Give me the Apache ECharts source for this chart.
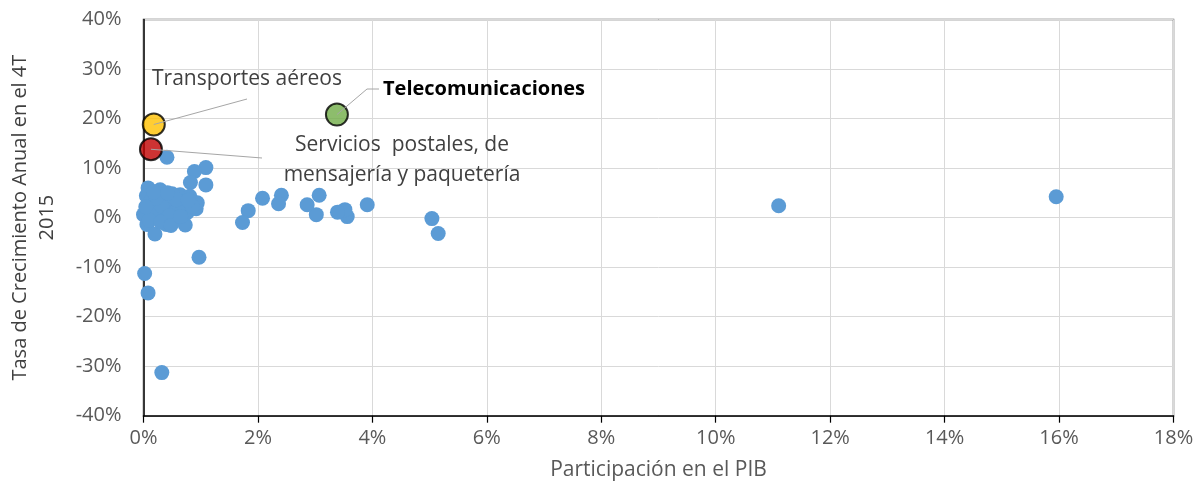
<!DOCTYPE html>
<html>
<head>
<meta charset="utf-8">
<script src="https://cdn.jsdelivr.net/npm/echarts@6/dist/echarts.min.js"></script>
<style>
html,body{margin:0;padding:0;background:#fff;}
#chart{width:1198px;height:481px;}
</style>
</head>
<body>
<div id="chart"></div>
<script>
// Participación en el PIB (%), Tasa de crecimiento anual (%)
const otherSectors = [
  [15.95, 4.2], [11.1, 2.4], [5.04, -0.2], [5.15, -3.2], [3.91, 2.6],
  [3.56, 0.2], [3.52, 1.6], [3.39, 1.1], [3.07, 4.5], [3.02, 0.6],
  [2.86, 2.6], [2.41, 4.5], [2.36, 2.8], [2.08, 3.9], [1.83, 1.4],
  [1.73, -1.0], [1.09, 10.1], [0.89, 9.3], [1.09, 6.6], [0.82, 7.1],
  [0.41, 12.2], [0.97, -8.0], [0.02, -11.3], [0.08, -15.2], [0.32, -31.3],
  [0.08, 6.0], [0.05, 4.4], [0.29, 5.6], [0.12, 3.2], [0.0, 0.6],
  [0.06, -1.4], [0.2, -3.3], [0.5, 2.2], [0.55, -0.3], [0.73, -1.5],
  [0.76, 1.0], [0.92, 1.8], [0.94, 3.0], [0.64, 4.6], [0.81, 4.3],
  [0.5, 4.8], [0.38, 3.4], [0.28, 0.5], [0.4, -1.4], [0.6, 1.5],
  [0.15, 1.0], [0.32, 2.3], [0.1, -0.5], [0.22, 3.9], [0.45, 0.4],
  [0.68, 2.8], [0.85, 2.3], [0.58, 3.6], [0.3, -0.9], [0.48, -1.6],
  [0.65, 0.2], [0.18, 5.2], [0.04, 2.2], [0.78, 3.5], [0.42, 5.0]
];
const transportesAereos = [[0.18, 18.8]];
const serviciosPostales = [[0.13, 13.8]];
const telecomunicaciones = [[3.38, 20.8]];

const labelTransportes = 'Transportes aéreos';
const labelTelecom = 'Telecomunicaciones';
const labelPostales = 'Servicios  postales, de\nmensajería y paquetería';
const xTitle = 'Participación en el PIB';
const yTitle = 'Tasa de Crecimiento Anual en el 4T\n2015';

const FONT = '"Open Sans", Lato, sans-serif';
const chart = echarts.init(document.getElementById('chart'), null, {renderer: 'canvas'});

const option = {
  backgroundColor: '#ffffff',
  animation: false,
  grid: {
    left: 143.5, right: 24.5, top: 19.5, bottom: 65.3,
    outerBoundsMode: 'none', containLabel: false,
    show: true, borderColor: '#595959', borderWidth: 1.5, backgroundColor: 'transparent'
  },
  xAxis: {
    type: 'value', min: 0, max: 18, interval: 2,
    name: xTitle, nameLocation: 'middle', nameGap: 44,
    nameTextStyle: {fontFamily: FONT, fontSize: 21, color: '#595959'},
    axisLine: {show: true, onZero: false, lineStyle: {color: '#000', width: 1.5}},
    axisTick: {show: true, length: 7, lineStyle: {color: '#000', width: 1.2}},
    axisLabel: {formatter: '{value}%', fontFamily: FONT, fontSize: 20, color: '#595959', margin: 13},
    splitLine: {show: true, lineStyle: {color: '#d9d9d9', width: 1}}
  },
  yAxis: {
    type: 'value', min: -40, max: 40, interval: 10,
    name: yTitle, nameLocation: 'middle', nameGap: 83, nameRotate: 90,
    nameTextStyle: {fontFamily: FONT, fontSize: 20, color: '#404040', lineHeight: 27, align: 'center'},
    axisLine: {show: true, lineStyle: {color: '#000', width: 1.5}},
    axisTick: {show: false},
    axisLabel: {formatter: '{value}%', fontFamily: FONT, fontSize: 20, color: '#595959', margin: 22},
    splitLine: {show: true, lineStyle: {color: '#d9d9d9', width: 1}}
  },
  series: [
    {
      name: 'Otros', type: 'scatter', data: otherSectors, symbolSize: 15,
      itemStyle: {color: '#5B9BD5', opacity: 1}, z: 2
    },
    {
      name: labelTransportes, type: 'scatter', data: transportesAereos, symbolSize: 22,
      itemStyle: {color: '#FFC000', borderColor: '#000', borderWidth: 2}, z: 3
    },
    {
      name: 'Servicios postales', type: 'scatter', data: serviciosPostales, symbolSize: 22,
      itemStyle: {color: '#C00000', borderColor: '#000', borderWidth: 2}, z: 3
    },
    {
      name: labelTelecom, type: 'scatter', data: telecomunicaciones, symbolSize: 22,
      itemStyle: {color: '#70AD47', borderColor: '#000', borderWidth: 2}, z: 3
    }
  ]
};
chart.setOption(option);

function px(pt) { return chart.convertToPixel({gridIndex: 0}, pt); }
const pT = px(transportesAereos[0]);
const pP = px(serviciosPostales[0]);
const pC = px(telecomunicaciones[0]);
const lineStyle = {stroke: '#a6a6a6', lineWidth: 1, fill: null};

chart.setOption({
  graphic: [
    {type: 'polyline', z: 100, shape: {points: [pT, [247, 99]]}, style: lineStyle},
    {type: 'polyline', z: 100, shape: {points: [pP, [262, 158]]}, style: lineStyle},
    {type: 'polyline', z: 100, shape: {points: [pC, [367, 89], [379, 89]]}, style: lineStyle},
    {type: 'text', z: 100, left: 152, top: 69,
      style: {text: labelTransportes, font: '21px ' + FONT, fill: '#404040'}},
    {type: 'text', z: 100, left: 383, top: 79,
      style: {text: labelTelecom, font: 'bold 20px ' + FONT, fill: '#000000'}},
    {type: 'text', z: 100, x: 402, y: 160,
      style: {text: labelPostales, font: '21px ' + FONT, fill: '#404040',
        align: 'center', verticalAlign: 'middle', lineHeight: 30}}
  ]
});
</script>
</body>
</html>
